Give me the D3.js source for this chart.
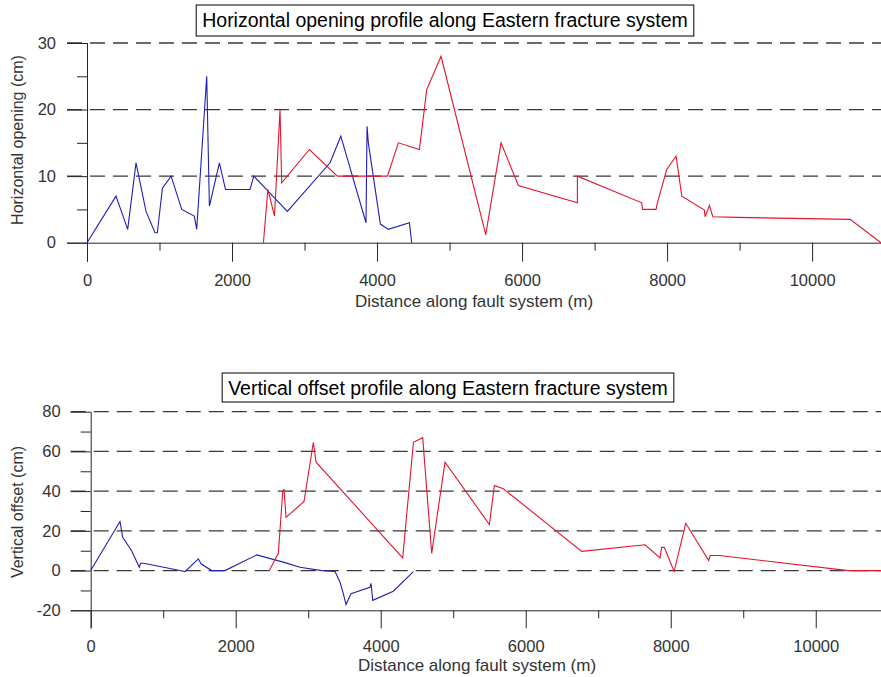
<!DOCTYPE html>
<html>
<head>
<meta charset="utf-8">
<script src="https://cdn.jsdelivr.net/npm/d3@7"></script>
<style>
  body { margin: 0; background: #fff; }
  svg { display: block; font-family: "Liberation Sans", Arial, sans-serif; }
</style>
</head>
<body>
<svg width="881" height="677"></svg>
<script>
// horizontal opening, blue segment (distance m, opening cm)
const hBlueDist = [0, 400, 561, 676, 814, 938, 970, 1040, 1160, 1306, 1480, 1513, 1651, 1688, 1826, 1910, 2248, 2300, 2500, 2763, 3352, 3500, 3848, 3862, 3880, 4046, 4156, 4446, 4478];
const hBlueVal = [0, 7, 2, 12, 4.7, 1.5, 1.5, 8.2, 10, 5, 4, 2, 25, 5.5, 12, 8, 8, 10, 7.7, 4.7, 12, 16, 3, 17.5, 15, 2.8, 2, 3, 0];
// horizontal opening, red segment
const hRedDist = [2433, 2494, 2586, 2662, 2685, 3067, 3453, 4143, 4294, 4584, 4685, 4883, 5499, 5710, 5949, 6763, 6763, 7651, 7660, 7848, 7866, 7995, 8124, 8203, 8515, 8524, 8584, 8630, 8961, 10524, 10950];
const hRedVal = [0, 8, 4, 20, 9, 14, 10, 10, 15, 14, 23, 28, 1.2, 15, 8.6, 6, 10, 6, 5, 5, 6, 11, 13, 7, 4.9, 3.9, 5.6, 3.9, 3.8, 3.5, 0];
// vertical offset, blue segment
const vBlueDist = [0, 404, 441, 565, 670, 690, 730, 1232, 1300, 1485, 1521, 1669, 1852, 2290, 2680, 2887, 3186, 3370, 3439, 3485, 3521, 3590, 3852, 3866, 3890, 4174, 4450];
const vBlueVal = [0, 24.7, 16.8, 10, 1.7, 3.7, 3.7, 0, -0.5, 5.9, 3.4, 0, 0, 7.9, 4, 1.7, 0, -0.5, -5.9, -11.7, -17.1, -11.7, -8.4, -6.4, -15, -10.4, -0.5];
// vertical offset, red segment
const vRedDist = [2464, 2588, 2648, 2666, 2694, 2942, 3071, 3108, 4303, 4451, 4579, 4703, 4887, 5499, 5567, 5691, 6772, 7646, 7852, 7875, 7912, 8046, 8207, 8524, 8543, 8671, 10450, 10900];
const vRedVal = [0, 8.7, 39.4, 41, 26.8, 34.8, 64.6, 54.6, 6.4, 64.6, 66.9, 8.7, 54.6, 23.2, 42.8, 41.2, 9.7, 13, 6.4, 11.7, 11.7, -0.5, 23.8, 5, 7.6, 7.6, 0, 0];

// tick values
const xMajor = [0, 2000, 4000, 6000, 8000, 10000];
const xMinor = [1000, 3000, 5000, 7000, 9000];
const hMajor = [0, 10, 20, 30];
const hMinor = [5, 15, 25];
const hGrid = [10, 20, 30];
const vMajor = [-20, 0, 20, 40, 60, 80];
const vMinor = [-10, 10, 30, 50, 70];
const vGrid = [0, 20, 40, 60, 80];

const svg = d3.select("svg");
const width = +svg.attr("width");
const blue = "#1f1fb4";
const red = "#e3142c";
const axisColor = "#262626";
const textColor = "#333";

const zip = (xs, ys) => xs.map((d, i) => [d, ys[i]]);
// plain hyphen for negatives, like the original plot
const plain = (d) => String(d);

// draws one profile panel
const drawPanel = (p) => {
  const x = d3.scaleLinear().domain(p.xDomain).range([p.left, width]);
  const y = d3.scaleLinear().domain(p.yDomain).range([p.bottom, p.top]);
  const g = svg.append("g");

  // dashed grid
  g.append("g")
    .selectAll("line")
    .data(p.grid)
    .enter()
    .append("line")
    .attr("x1", p.left - 20)
    .attr("x2", width)
    .attr("y1", (d) => y(d))
    .attr("y2", (d) => y(d))
    .attr("stroke", "#383838")
    .attr("stroke-width", 1.3)
    .attr("stroke-dasharray", "15,8");

  // minor ticks first, then major axes with labels
  g.append("g")
    .attr("transform", `translate(0,${p.bottom})`)
    .call(d3.axisBottom(x).tickValues(xMinor).tickSize(8).tickFormat(""))
    .call((a) => a.select(".domain").remove());
  g.append("g")
    .attr("transform", `translate(${p.left},0)`)
    .call(d3.axisLeft(y).tickValues(p.yMinor).tickSize(10).tickFormat(""))
    .call((a) => a.select(".domain").remove());

  const xAxisG = g
    .append("g")
    .attr("transform", `translate(0,${p.bottom})`)
    .call(d3.axisBottom(x).tickValues(xMajor).tickSize(p.xTick).tickPadding(p.xPad).tickSizeOuter(0).tickFormat(plain));
  xAxisG.select(".domain").attr("d", `M${p.left - 20},0.5H${width}`);

  const yAxisG = g
    .append("g")
    .attr("transform", `translate(${p.left},0)`)
    .call(d3.axisLeft(y).tickValues(p.yMajor).tickSize(20).tickPadding(p.yPad).tickSizeOuter(0).tickFormat(plain));
  yAxisG.select(".domain").attr("d", `M0.5,${p.top}V${p.bottom + p.xTick}`);

  g.selectAll(".tick line, .domain").attr("stroke", axisColor);
  g.selectAll(".tick text")
    .attr("fill", textColor)
    .attr("font-size", "16.5px")
    .attr("font-family", "Liberation Sans, Arial, sans-serif");

  // profile lines
  const line = d3.line().x((d) => x(d[0])).y((d) => y(d[1]));
  p.series.forEach((s) => {
    g.append("path")
      .datum(s.data)
      .attr("fill", "none")
      .attr("stroke", s.color)
      .attr("stroke-width", 1.1)
      .attr("d", line);
  });

  // axis titles
  g.append("text")
    .attr("x", p.xTitleX)
    .attr("y", p.xTitleY)
    .attr("text-anchor", "middle")
    .attr("fill", textColor)
    .attr("font-size", "17px")
    .text("Distance along fault system (m)");
  g.append("text")
    .attr("transform", `translate(${p.yTitleX},${p.yTitleY}) rotate(-90)`)
    .attr("text-anchor", "middle")
    .attr("fill", textColor)
    .attr("font-size", "16px")
    .text(p.yTitle);

  // boxed title: measure the text, draw the box, then put text on top
  const title = g
    .append("text")
    .attr("x", p.titleX)
    .attr("y", p.titleBase)
    .attr("text-anchor", "middle")
    .attr("fill", "#000")
    .attr("font-size", "19.5px")
    .text(p.title);
  const tw = title.node().getComputedTextLength();
  g.append("rect")
    .attr("x", p.titleX - tw / 2 - 6)
    .attr("y", p.boxTop)
    .attr("width", tw + 12)
    .attr("height", p.boxH)
    .attr("fill", "#fff")
    .attr("stroke", "#000")
    .attr("stroke-width", 1);
  title.raise();
};

drawPanel({
  xDomain: [0, 10950],
  yDomain: [0, 30],
  left: 87,
  top: 43,
  bottom: 242.7,
  xTick: 19,
  xPad: 13,
  yPad: 11,
  yMajor: hMajor,
  yMinor: hMinor,
  grid: hGrid,
  series: [
    { data: zip(hBlueDist, hBlueVal), color: blue },
    { data: zip(hRedDist, hRedVal), color: red },
  ],
  xTitleX: 474,
  xTitleY: 307,
  yTitleX: 23,
  yTitleY: 140,
  yTitle: "Horizontal opening (cm)",
  title: "Horizontal opening profile along Eastern fracture system",
  titleX: 445,
  titleBase: 27,
  boxTop: 5,
  boxH: 31,
});

drawPanel({
  xDomain: [0, 10900],
  yDomain: [-20, 80],
  left: 90.7,
  top: 411.7,
  bottom: 610.3,
  xTick: 18,
  xPad: 12,
  yPad: 10,
  yMajor: vMajor,
  yMinor: vMinor,
  grid: vGrid,
  series: [
    { data: zip(vBlueDist, vBlueVal), color: blue },
    { data: zip(vRedDist, vRedVal), color: red },
  ],
  xTitleX: 477,
  xTitleY: 671,
  yTitleX: 23,
  yTitleY: 512,
  yTitle: "Vertical offset (cm)",
  title: "Vertical offset profile along Eastern fracture system",
  titleX: 448,
  titleBase: 395,
  boxTop: 373,
  boxH: 29,
});
</script>
</body>
</html>
